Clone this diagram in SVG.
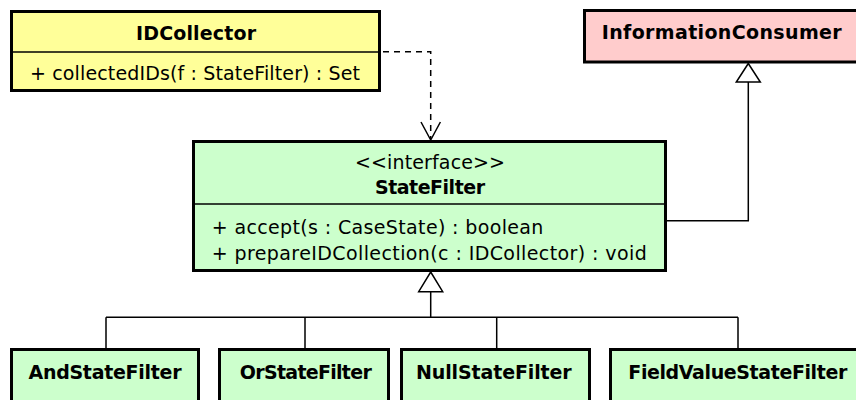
<svg xmlns="http://www.w3.org/2000/svg" width="856" height="400" viewBox="0 0 856 400">
  <defs>
    <style>
      .box { stroke: #000; stroke-width: 3; }
      .yellow { fill: #ffff99; }
      .green { fill: #ccffcc; }
      .pink { fill: #ffcccc; }
      .sep { stroke: #000; stroke-width: 1.3; fill: none; }
      .line { stroke: #000; stroke-width: 1.5; fill: none; }
      .dash { stroke: #000; stroke-width: 1.5; fill: none; stroke-dasharray: 6 5; }
      .head { stroke: #000; stroke-width: 1.5; fill: #fff; }
      text { font-family: "DejaVu Sans", "Liberation Sans", sans-serif; font-size: 19px; fill: #000; }
      .name { font-weight: bold; text-anchor: middle; }
      .stereo { text-anchor: middle; }
    </style>
  </defs>

  <rect width="856" height="400" fill="#fff"/>

  <!-- connectors -->
  <g id="connectors">
    <!-- IDCollector uses StateFilter -->
    <path class="dash" d="M383 51.7 H430.7 V139"/>
    <path class="line" d="M421 122 L430.7 140 L440.4 122"/>
    <!-- StateFilter generalises InformationConsumer -->
    <path class="line" d="M667 220.7 H748.3 V82"/>
    <path class="head" d="M748.3 63.5 L760.3 82 L736.3 82 Z"/>
    <!-- subclasses of StateFilter -->
    <path class="line" d="M430.7 291.7 V317.3 M106 317.3 H738 M106 317.3 V348 M305 317.3 V348 M496.7 317.3 V348 M738 317.3 V348"/>
    <path class="head" d="M430.7 272 L442.7 291.7 L418.7 291.7 Z"/>
  </g>

  <g id="IDCollector">
    <rect class="box yellow" x="11.5" y="11.5" width="368" height="79"/>
    <line class="sep" x1="13" y1="52" x2="378" y2="52"/>
    <text class="name" x="196" y="39.5" textLength="120">IDCollector</text>
    <text x="30" y="80" textLength="330">+ collectedIDs(f : StateFilter) : Set</text>
  </g>

  <g id="InformationConsumer">
    <rect class="box pink" x="584.5" y="10.5" width="275" height="51.5"/>
    <text class="name" x="721.7" y="38.5" textLength="240">InformationConsumer</text>
  </g>

  <g id="StateFilter">
    <rect class="box green" x="193.5" y="141.5" width="472" height="129"/>
    <line class="sep" x1="195" y1="204" x2="664" y2="204"/>
    <text class="stereo" x="430" y="168.5" textLength="150">&lt;&lt;interface&gt;&gt;</text>
    <text class="name" x="430" y="194" textLength="110">StateFilter</text>
    <text x="211.7" y="234.3" textLength="331.7">+ accept(s : CaseState) : boolean</text>
    <text x="211.7" y="260" textLength="435">+ prepareIDCollection(c : IDCollector) : void</text>
  </g>

  <g id="AndStateFilter">
    <rect class="box green" x="11.5" y="349.5" width="187" height="100"/>
    <text class="name" x="105" y="379" textLength="153">AndStateFilter</text>
  </g>

  <g id="OrStateFilter">
    <rect class="box green" x="219.5" y="349.5" width="169" height="100"/>
    <text class="name" x="305.8" y="379" textLength="132">OrStateFilter</text>
  </g>

  <g id="NullStateFilter">
    <rect class="box green" x="401.5" y="349.5" width="188" height="100"/>
    <text class="name" x="493.8" y="379" textLength="155.7">NullStateFilter</text>
  </g>

  <g id="FieldValueStateFilter">
    <rect class="box green" x="610.5" y="349.5" width="255" height="100"/>
    <text class="name" x="737.8" y="379" textLength="219">FieldValueStateFilter</text>
  </g>
</svg>
